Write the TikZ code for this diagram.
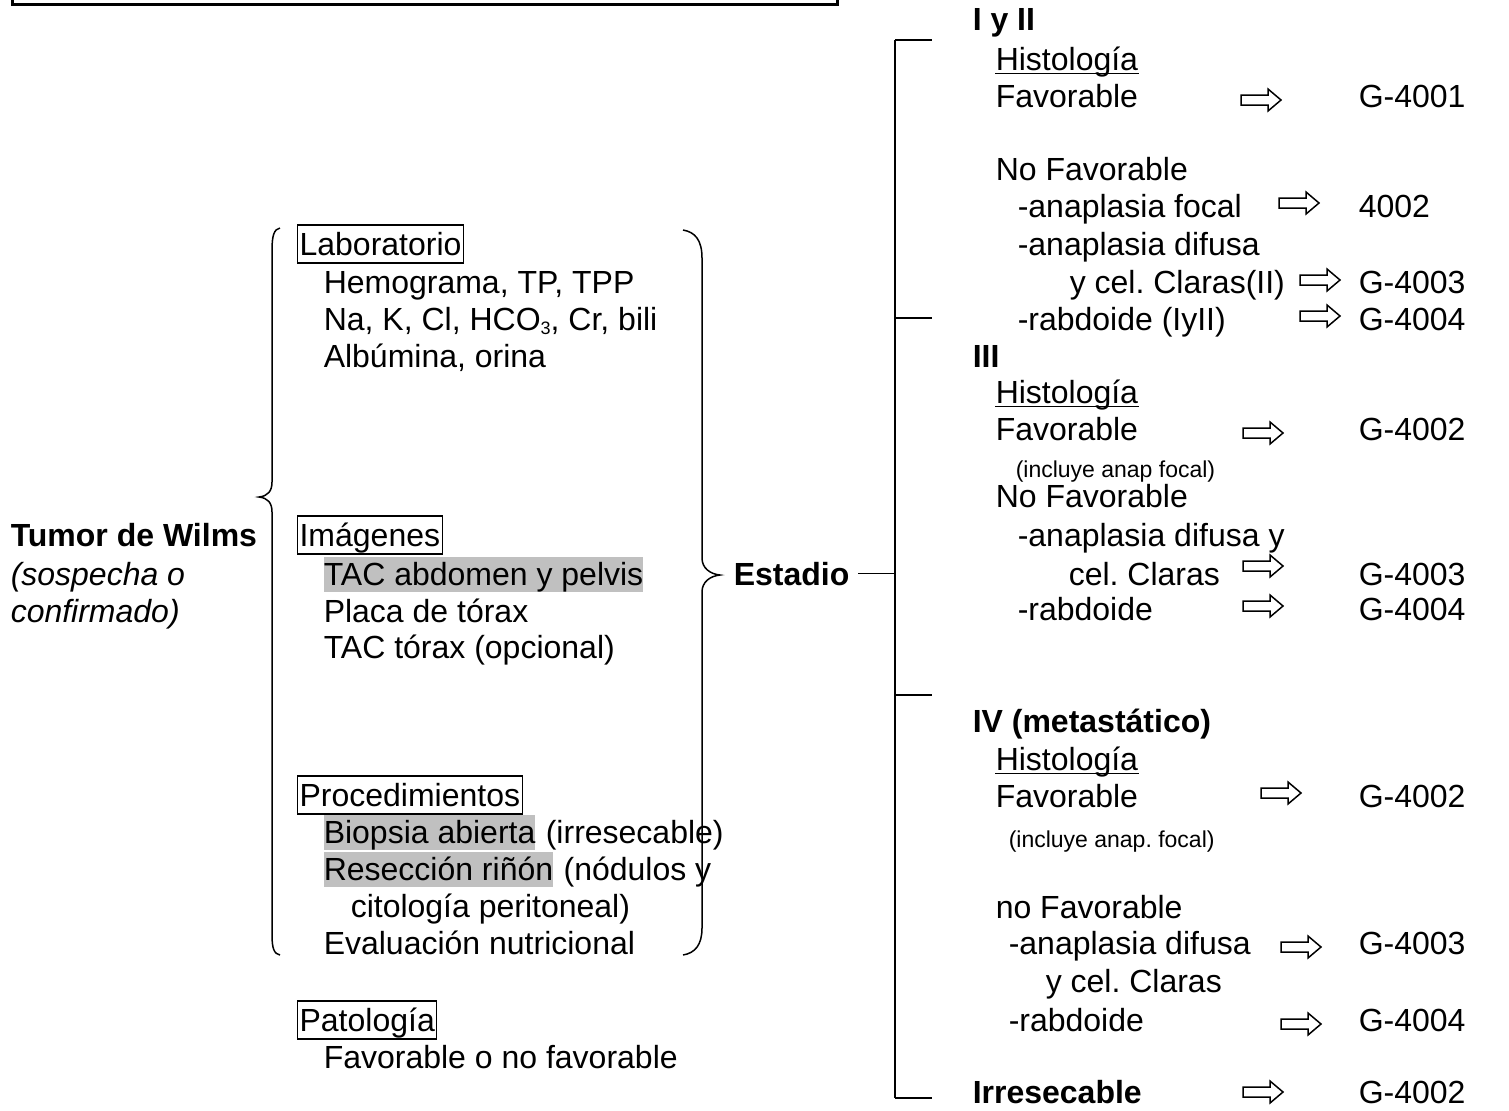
\documentclass[tikz,border=0pt]{standalone}
\usepackage{fontspec}
\setmainfont{Liberation Sans}
\usetikzlibrary{calc}
\definecolor{hlgray}{RGB}{192,192,192}
\frenchspacing

\tikzset{every picture/.style={line width=0.75pt}}
\tikzset{
  txt/.style={anchor=base west,inner sep=0pt,font=\fontsize{16}{18.5}\selectfont},
  smalltxt/.style={anchor=base west,inner sep=0pt,font=\fontsize{11.5}{14}\selectfont},
  headtxt/.style={anchor=base west,inner sep=0pt,font=\fontsize{16}{18.5}\selectfont\bfseries},
  boxed/.style={txt,draw,line width=0.6pt,inner xsep=1pt,inner ysep=0.5pt,text height=14.5pt,text depth=3.5pt},
  hl/.style={txt,fill=hlgray,text height=14pt,text depth=3.5pt},
  fatarrow/.pic={\draw[fill=white] (0,-5) -- (27,-5) -- (27,-11) -- (40,0) -- (27,11) -- (27,5) -- (0,5) -- cycle;}
}
\newcommand{\ulhist}[1]{\draw[line width=0.9pt] ($(#1.base west)+(0,3.5)$) -- ($(#1.base east)+(0,3.5)$);}
\newcommand{\subthree}{\raisebox{-2pt}{\fontsize{9}{9}\selectfont 3}}

\begin{document}
\begin{tikzpicture}[x=0.5pt,y=0.5pt,yscale=-1,xscale=1]
  \useasboundingbox (0,0) rectangle (1509,1110);

  % box cut at the top of the page
  \draw[line width=1.5pt] (12,-20) rectangle (837,4);

  \node[headtxt] (wilms) at (10,546) {Tumor de Wilms};
  \node[txt] (sosp) at (10,585) {\itshape (sospecha o};
  \node[txt] (conf) at (10,622) {\itshape confirmado)};

  \draw (280,228) .. controls (274,229) and (272,236) .. (272,250) -- (272,482) .. controls (272,491) and (268,496) .. (259,497) .. controls (268,498) and (272,503) .. (272,512) -- (272,935) .. controls (272,948) and (274,954) .. (280,955);

  \node[boxed] (lab) at (297,255) {Laboratorio};
  \node[txt] (lab1) at (323,293) {Hemograma, TP, TPP};
  \node[txt] (lab2) at (323,330) {Na, K, Cl, HCO\subthree, Cr, bili};
  \node[txt] (lab3) at (323,367) {Albúmina, orina};

  \node[boxed] (img) at (297,546) {Imágenes};
  \node[hl] (img1) at (323,585) {TAC abdomen y pelvis};
  \node[txt] (img2) at (323,622) {Placa de tórax};
  \node[txt] (img3) at (323,658) {TAC tórax (opcional)};

  \node[boxed] (proc) at (297,806) {Procedimientos};
  \node[hl] (proc1) at (323,843) {Biopsia abierta};
  \node[txt] (proc1b) at (proc1.base east) {~(irresecable)};
  \node[hl] (proc2) at (323,880) {Resección riñón};
  \node[txt] (proc2b) at (proc2.base east) {~(nódulos y};
  \node[txt] (proc3) at (350,917) {citología peritoneal)};
  \node[txt] (proc4) at (323,954) {Evaluación nutricional};

  \node[boxed] (pat) at (297,1031) {Patología};
  \node[txt] (pat1) at (323,1068) {Favorable o no favorable};

  \draw (683,230) .. controls (695,232) and (702,240) .. (702,258) -- (702,558) .. controls (702,568) and (710,574) .. (720,575) .. controls (710,576) and (702,582) .. (702,592) -- (702,928) .. controls (702,945) and (695,953) .. (683,955);

  \node[headtxt] (estadio) at (733,585) {Estadio};

  \coordinate (bartop) at (895,40);
  \coordinate (barIII) at (895,318);
  \coordinate (barIV) at (895,695);
  \coordinate (barbot) at (895,1098);
  \draw[line width=1.2pt] (bartop) -- (barbot);
  \draw (bartop) -- ++(37,0);
  \draw (barIII) -- ++(37,0);
  \draw (barIV) -- ++(37,0);
  \draw (barbot) -- ++(37,0);
  \draw ([xshift=4pt]estadio.east) -- (estadio.east -| bartop);

  % I y II
  \node[headtxt] (st1) at (972,30) {I y II};
  \node[txt] (st1h) at (995,70) {Histología};
  \ulhist{st1h}
  \node[txt] (st1f) at (995,107) {Favorable};
  \pic at (1241,100) {fatarrow};
  \node[txt] (g1f) at (1358,107) {G-4001};
  \node[txt] (st1n) at (995,180) {No Favorable};
  \node[txt] (st1a) at (1017,217) {-anaplasia focal};
  \pic at (1279,203) {fatarrow};
  \node[txt] (g1a) at (1358,217) {4002};
  \node[txt] (st1d) at (1017,255) {-anaplasia difusa};
  \node[txt] (st1c) at (1069,293) {y cel. Claras(II)};
  \pic at (1300,280) {fatarrow};
  \node[txt] (g1c) at (1358,293) {G-4003};
  \node[txt] (st1r) at (1017,330) {-rabdoide (IyII)};
  \pic at (1300,316) {fatarrow};
  \node[txt] (g1r) at (1358,330) {G-4004};

  % III
  \node[headtxt] (st3) at (972,367) {III};
  \node[txt] (st3h) at (995,403) {Histología};
  \ulhist{st3h}
  \node[txt] (st3f) at (995,440) {Favorable};
  \pic at (1243,433) {fatarrow};
  \node[txt] (g3f) at (1358,440) {G-4002};
  \node[smalltxt] (st3i) at (1015,477) {(incluye anap focal)};
  \node[txt] (st3n) at (995,507) {No Favorable};
  \node[txt] (st3d) at (1017,546) {-anaplasia difusa y};
  \node[txt] (st3c) at (1068,585) {cel. Claras};
  \pic at (1243,566) {fatarrow};
  \node[txt] (g3c) at (1358,585) {G-4003};
  \node[txt] (st3r) at (1017,620) {-rabdoide};
  \pic at (1243,606) {fatarrow};
  \node[txt] (g3r) at (1358,620) {G-4004};

  % IV
  \node[headtxt] (st4) at (972,732) {IV (metastático)};
  \node[txt] (st4h) at (995,770) {Histología};
  \ulhist{st4h}
  \node[txt] (st4f) at (995,807) {Favorable};
  \pic at (1261,793) {fatarrow};
  \node[txt] (g4f) at (1358,807) {G-4002};
  \node[smalltxt] (st4i) at (1008,847) {(incluye anap. focal)};
  \node[txt] (st4n) at (995,918) {no Favorable};
  \node[txt] (st4d) at (1008,954) {-anaplasia difusa};
  \pic at (1281,947) {fatarrow};
  \node[txt] (g4d) at (1358,954) {G-4003};
  \node[txt] (st4c) at (1045,992) {y cel. Claras};
  \node[txt] (st4r) at (1008,1031) {-rabdoide};
  \pic at (1281,1024) {fatarrow};
  \node[txt] (g4r) at (1358,1031) {G-4004};

  \node[headtxt] (irr) at (972,1103) {Irresecable};
  \pic at (1243,1092) {fatarrow};
  \node[txt] (girr) at (1358,1103) {G-4002};

\end{tikzpicture}
\end{document}
